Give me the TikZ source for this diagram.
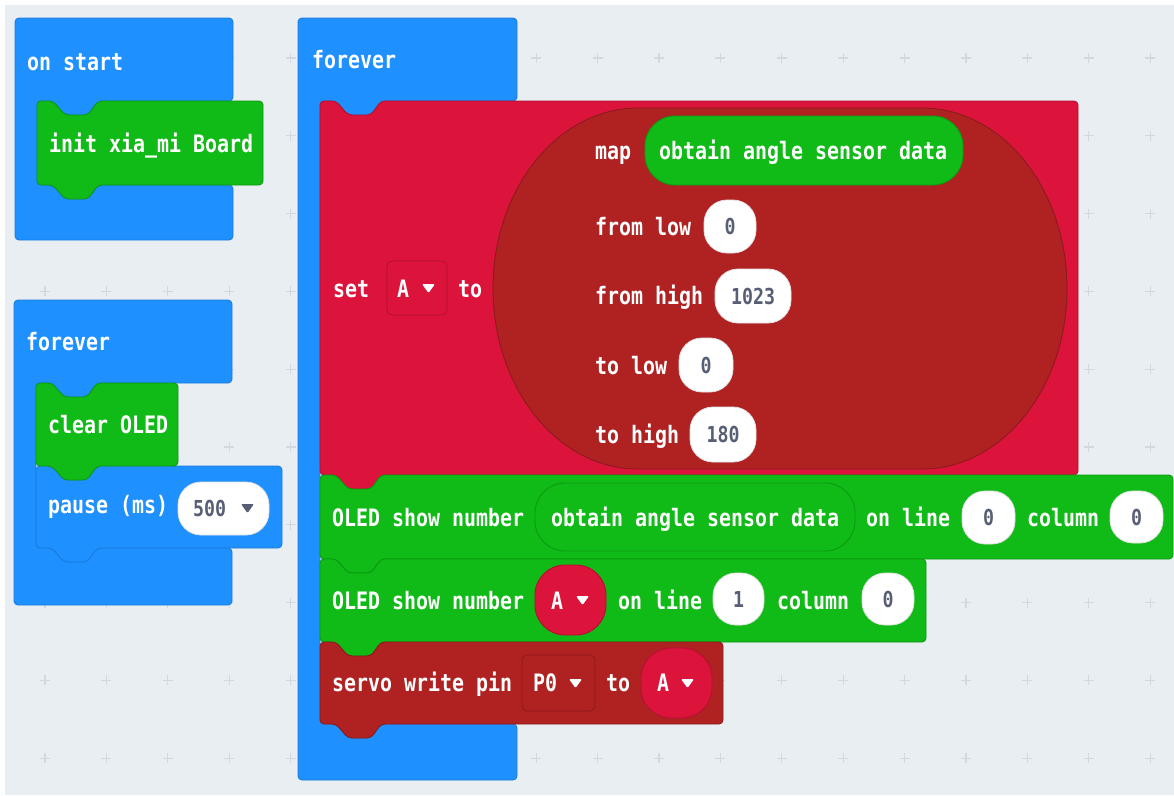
\documentclass[tikz,border=0pt]{standalone}
\usepackage{fontspec}
\newfontfamily\mcfont{DejaVu Sans Mono}[FakeStretch=0.83]
\definecolor{bgc}{HTML}{E9EEF2}
\definecolor{gridc}{HTML}{D2D8DE}
\definecolor{loopb}{HTML}{1E90FF}
\definecolor{loopbd}{HTML}{1A7CDD}
\definecolor{oledg}{HTML}{10BA17}
\definecolor{oledgd}{HTML}{0C9A12}
\definecolor{varr}{HTML}{DC143C}
\definecolor{varrd}{HTML}{B31031}
\definecolor{mapr}{HTML}{B02222}
\definecolor{maprd}{HTML}{8C1A1A}
\definecolor{numc}{HTML}{575E75}
\tikzset{
  lbl/.style={anchor=base west, inner sep=0pt, text=white, font={\mcfont\bfseries\fontsize{24}{24}\selectfont}},
  blueblk/.style={fill=loopb, draw=loopbd, line width=0.9pt, rounded corners=4pt},
  greenblk/.style={fill=oledg, draw=oledgd, line width=0.9pt, rounded corners=4pt},
  redblk/.style={fill=varr, draw=varrd, line width=0.9pt, rounded corners=4pt},
  dredblk/.style={fill=mapr, draw=maprd, line width=0.9pt, rounded corners=4pt},
  wpill/.style={fill=white, draw=black!12, line width=0.8pt, rounded corners=23pt, inner sep=0pt, text=numc, font={\mcfont\bfseries\fontsize{22}{22}\selectfont}},
  gpill/.style={fill=oledg, draw=oledgd, line width=0.9pt, rounded corners=30pt, inner sep=0pt},
  rpill/.style={fill=varr, draw=varrd, line width=0.9pt, rounded corners=30pt, inner sep=0pt},
  rdrop/.style={fill=varr, draw=varrd, line width=0.9pt, rounded corners=5pt, inner sep=0pt},
  ddrop/.style={fill=mapr, draw=maprd, line width=0.9pt, rounded corners=5pt, inner sep=0pt},
}
% stack block: style, x0, y0, x1, y1 (pixel coords, y downwards)
\newcommand\sblk[5]{\draw[#1] ({#2},{-(#3)}) -- ({#2+16},{-(#3)}) -- ({#2+28},{-(#3)-14}) -- ({#2+51},{-(#3)-14}) -- ({#2+61},{-(#3)}) -- ({#4},{-(#3)}) -- ({#4},{-(#5)}) -- ({#2+61},{-(#5)}) -- ({#2+51},{-(#5)-14}) -- ({#2+28},{-(#5)-14}) -- ({#2+16},{-(#5)}) -- ({#2},{-(#5)}) -- cycle;}
% C block: style, x0, y0, x1, y1, inner top, inner bottom
\newcommand\cblk[7]{\draw[#1] ({#2},{-(#3)}) -- ({#4},{-(#3)}) -- ({#4},{-(#6)}) -- ({#2+83},{-(#6)}) -- ({#2+73},{-(#6)-14}) -- ({#2+50},{-(#6)-14}) -- ({#2+38},{-(#6)}) -- ({#2+22},{-(#6)}) -- ({#2+22},{-(#7)}) -- ({#2+38},{-(#7)}) -- ({#2+50},{-(#7)-14}) -- ({#2+73},{-(#7)-14}) -- ({#2+83},{-(#7)}) -- ({#4},{-(#7)}) -- ({#4},{-(#5)}) -- ({#2},{-(#5)}) -- cycle;}
% pill node: name, style, x0, y0, x1, y1, text
\newcommand\pill[7]{\node[#2, minimum width={#5-#3}, minimum height={#6-#4}] (#1) at ({(#3+#5)/2},{-(#4+#6)/2}) {#7};}
% dropdown triangle: colour, left x, centre y
\newcommand\tri[3]{\fill[#1, rounded corners=1.2pt] ({#2},{-(#3)+4}) -- ({#2+13},{-(#3)+4}) -- ({#2+6.5},{-(#3)-5}) -- cycle;}
\begin{document}
\begin{tikzpicture}[x=1pt,y=1pt]
\useasboundingbox (0,0) rectangle (1174,-795);
\fill[white] (0,0) rectangle (1174,-795);
\fill[bgc] (5,-5) rectangle (1174,-795);
% grid
\foreach \i in {0,...,18}{\foreach \j in {0,...,9}{
  \draw[gridc, line width=1.3pt] ({45+61.4*\i-5},{-(58+77.8*\j)}) -- ++(10,0);
  \draw[gridc, line width=1.3pt] ({45+61.4*\i},{-(58+77.8*\j)-5}) -- ++(0,10);
}}
% ---------- on start ----------
\cblk{blueblk}{15}{18}{233}{240}{101}{185}
\node[lbl] (onstart) at (27,-70) {on start};
\sblk{greenblk}{37}{101}{263}{185}
\node[lbl] (init) at (49,-152) {init xia\_mi Board};
% ---------- left forever ----------
\cblk{blueblk}{14}{300}{232}{605}{383}{548}
\node[lbl] (forever1) at (26,-350) {forever};
\sblk{blueblk}{36}{466}{282}{548}
\sblk{greenblk}{36}{383}{178}{466}
\node[lbl] (clear) at (48,-433) {clear OLED};
\node[lbl] (pause) at (48,-513) {pause (ms)};
\pill{p500}{wpill}{178}{482}{269}{535}{}
\node[lbl, text=numc, font={\mcfont\bfseries\fontsize{22}{22}\selectfont}] (t500) at (193,-516) {500};
\tri{numc}{241}{508}
% ---------- right forever ----------
\cblk{blueblk}{298}{18}{517}{780}{101}{724}
\node[lbl] (forever2) at (312,-68) {forever};
% set block
\sblk{redblk}{320}{101}{1078}{475}
\node[lbl] (set) at (333,-297) {set};
\pill{dropA}{rdrop}{387}{261}{447}{315}{}
\node[lbl] (setA) at (397,-297) {A};
\tri{white}{422}{288}
\node[lbl] (setto) at (458,-297) {to};
% map oval
\draw[fill=mapr, draw=maprd, line width=0.9pt] (638,-108) -- (922,-108)
  arc[start angle=90, end angle=-90, x radius=145, y radius=180.5] -- (638,-469)
  arc[start angle=270, end angle=90, x radius=145, y radius=180.5] -- cycle;
\node[lbl] (map) at (595,-159) {map};
\pill{sens1}{gpill}{645}{116}{963}{185}{}
\node[lbl] (sens1t) at (659,-159) {obtain angle sensor data};
\node[lbl] (fromlow) at (595,-235) {from low};
\pill{p1}{wpill}{704}{200}{756}{253}{0}
\node[lbl] (fromhigh) at (595,-304) {from high};
\pill{p2}{wpill}{715}{269}{791}{323}{1023}
\node[lbl] (tolow) at (595,-374) {to low};
\pill{p3}{wpill}{679}{338}{733}{392}{0}
\node[lbl] (tohigh) at (595,-443) {to high};
\pill{p4}{wpill}{690}{407}{756}{462}{180}
% OLED row 1
\sblk{greenblk}{320}{475}{1173}{559}
\node[lbl] (oled1) at (332,-526) {OLED show number};
\pill{sens2}{gpill}{535}{483}{855}{551}{}
\node[lbl] (sens2t) at (551,-526) {obtain angle sensor data};
\node[lbl] (online1) at (866,-526) {on line};
\pill{p5}{wpill}{962}{491}{1015}{544}{0}
\node[lbl] (col1) at (1027,-526) {column};
\pill{p6}{wpill}{1110}{491}{1163}{543}{0}
% OLED row 2
\sblk{greenblk}{320}{559}{926}{642}
\node[lbl] (oled2) at (332,-609) {OLED show number};
\pill{varA1}{rpill}{535}{565}{606}{635}{}
\node[lbl] (varA1t) at (551,-609) {A};
\tri{white}{576}{600}
\node[lbl] (online2) at (618,-609) {on line};
\pill{p7}{wpill}{713}{573}{764}{625}{1}
\node[lbl] (col2) at (777,-609) {column};
\pill{p8}{wpill}{862}{573}{914}{625}{0}
% servo
\sblk{dredblk}{320}{642}{723}{724}
\node[lbl] (servo) at (332,-691) {servo write pin};
\pill{dropP}{ddrop}{522}{655}{595}{711}{}
\node[lbl] (P0) at (533,-691) {P0};
\tri{white}{569}{683}
\node[lbl] (servoto) at (606,-691) {to};
\pill{varA2}{rpill}{641}{648}{712}{718}{}
\node[lbl] (varA2t) at (657,-691) {A};
\tri{white}{681}{683}
\end{tikzpicture}
\end{document}
